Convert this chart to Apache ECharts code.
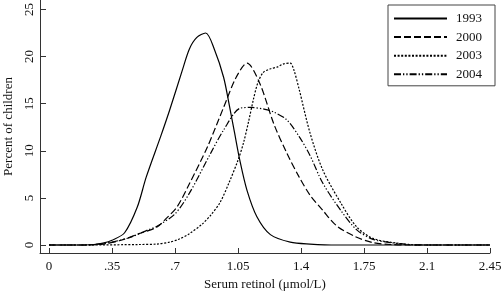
<!DOCTYPE html>
<html>
<head>
<meta charset="utf-8">
<script src="https://cdn.jsdelivr.net/npm/echarts@6/dist/echarts.min.js"></script>
<style>
  html, body { margin: 0; padding: 0; background: #fff; }
  #chart { width: 502px; height: 293px; }
</style>
</head>
<body>
<div id="chart"></div>
<script>
// serum retinol (umol/L) -> percent of children
const series1993 = [
  [0, 0], [0.2, 0], [0.25, 0.05], [0.3, 0.2], [0.35, 0.5], [0.42, 1.3], [0.49, 4.0],
  [0.54, 7.2], [0.62, 11.5], [0.67, 14.3], [0.74, 18.5], [0.78, 20.8], [0.82, 22.0],
  [0.87, 22.5], [0.92, 20.7], [0.97, 17.8], [1.0, 15.0], [1.03, 12.0], [1.06, 9.0],
  [1.1, 5.8], [1.155, 3.0], [1.23, 1.1], [1.34, 0.3], [1.45, 0.1], [1.6, 0], [2.45, 0]
];
const series2000 = [
  [0, 0], [0.2, 0], [0.3, 0.1], [0.4, 0.5], [0.5, 1.2], [0.6, 1.9], [0.65, 2.8],
  [0.71, 4.0], [0.78, 6.5], [0.88, 10.4], [0.97, 14.6], [1.04, 17.8], [1.1, 19.3],
  [1.17, 17.2], [1.25, 12.8], [1.32, 9.8], [1.39, 7.2], [1.45, 5.3], [1.52, 3.7],
  [1.6, 2.0], [1.7, 0.9], [1.8, 0.25], [1.9, 0.05], [2.0, 0], [2.45, 0]
];
const series2003 = [
  [0, 0], [0.2, 0], [0.5, 0.05], [0.6, 0.1], [0.67, 0.3], [0.72, 0.6], [0.78, 1.2],
  [0.85, 2.2], [0.9, 3.2], [0.95, 4.5], [1.0, 6.6], [1.05, 9.0], [1.08, 10.8],
  [1.11, 13.2], [1.135, 15.4], [1.16, 17.2], [1.19, 18.3], [1.23, 18.7], [1.27, 18.9],
  [1.3, 19.2], [1.34, 19.3], [1.36, 18.6], [1.39, 16.5], [1.45, 11.9], [1.52, 8.0],
  [1.62, 4.5], [1.71, 1.9], [1.8, 0.7], [1.93, 0.2], [2.05, 0], [2.45, 0]
];
const series2004 = [
  [0, 0], [0.2, 0], [0.3, 0.15], [0.35, 0.3], [0.45, 0.8], [0.55, 1.6], [0.6, 2.0],
  [0.7, 3.3], [0.78, 5.5], [0.9, 9.8], [0.97, 12.2], [1.06, 14.5], [1.12, 14.6],
  [1.2, 14.4], [1.25, 14.1], [1.32, 13.3], [1.39, 11.5], [1.45, 9.5], [1.52, 6.6],
  [1.62, 3.7], [1.71, 1.6], [1.8, 0.6], [1.9, 0.25], [2.0, 0.05], [2.1, 0], [2.45, 0]
];
const seriesNames = ['1993', '2000', '2003', '2004'];
const xTickValues = [0, 0.35, 0.7, 1.05, 1.4, 1.75, 2.1, 2.45];
const xTickLabels = ['0', '.35', '.7', '1.05', '1.4', '1.75', '2.1', '2.45'];
const yTickValues = [0, 5, 10, 15, 20, 25];

const font = 'Liberation Serif';
const dashTypes = ['solid', [7, 3], [2, 1.6], [7, 2, 1.3, 2, 1.3, 2]];
const allData = [series1993, series2000, series2003, series2004];

const chart = echarts.init(document.getElementById('chart'));
chart.setOption({
  animation: false,
  backgroundColor: '#fff',
  grid: { left: 40, right: 12, top: 0, bottom: 40, outerBoundsMode: 'none' },
  legend: {
    orient: 'vertical',
    right: 7,
    top: 5,
    data: seriesNames,
    borderColor: '#444',
    borderWidth: 1,
    padding: [7, 13, 5, 5],
    itemWidth: 53,
    itemHeight: 14,
    itemGap: 5.6,
    itemStyle: { opacity: 0 },
    textStyle: { fontFamily: font, fontSize: 13, color: '#111', padding: [0, 0, 0, 4] }
  },
  xAxis: {
    type: 'value',
    min: -0.05,
    max: 2.45,
    name: 'Serum retinol (μmol/L)',
    nameLocation: 'middle',
    nameGap: 24,
    nameTextStyle: { fontFamily: font, fontSize: 13, color: '#111' },
    axisLine: { show: true, onZero: false, lineStyle: { color: '#333', width: 1 } },
    axisTick: { show: true, inside: true, length: 5, customValues: xTickValues, lineStyle: { color: '#333' } },
    axisLabel: {
      customValues: xTickValues,
      margin: 7,
      fontFamily: font, fontSize: 13, color: '#111',
      formatter: v => {
        const i = xTickValues.findIndex(t => Math.abs(t - v) < 1e-6);
        return i >= 0 ? xTickLabels[i] : '';
      }
    },
    splitLine: { show: false }
  },
  yAxis: {
    type: 'value',
    min: -0.85,
    max: 26,
    name: 'Percent of children',
    nameLocation: 'middle',
    nameGap: 25,
    nameRotate: 90,
    nameTextStyle: { fontFamily: font, fontSize: 13, color: '#111' },
    axisLine: { show: true, onZero: false, lineStyle: { color: '#333', width: 1 } },
    axisTick: { show: true, inside: true, length: 6, customValues: yTickValues, lineStyle: { color: '#333' } },
    axisLabel: {
      customValues: yTickValues,
      rotate: 90,
      margin: 4,
      fontFamily: font, fontSize: 13, color: '#111'
    },
    splitLine: { show: false }
  },
  series: seriesNames.map((name, i) => ({
    name,
    type: 'line',
    data: allData[i],
    smooth: 0.3,
    showSymbol: false,
    symbol: 'none',
    lineStyle: { color: '#000', width: 1.2, type: dashTypes[i] },
    itemStyle: { color: '#000' }
  }))
});
</script>
</body>
</html>
